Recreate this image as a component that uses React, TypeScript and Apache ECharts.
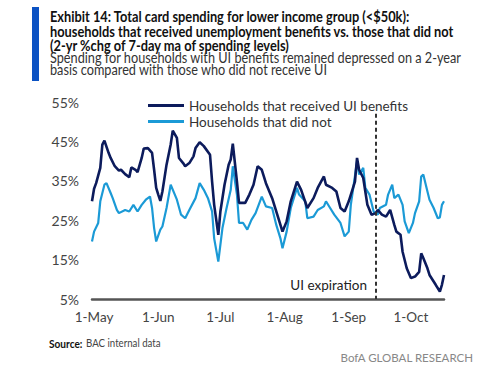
import React, { useEffect, useRef } from "react";
import * as echarts from "echarts";

// Day index: 0 = 1 May
const uiDays = [-1,0,1,3,4,5,7,8,10,12,13,15,17,18,20,21,23,24,26,28,29,30,31,32,33,35,37,38,40,41,43,44,46,48,49,51,53,56,57,58,60,61,63,65,66,67,69,70,73,75,77,79,81,83,86,89,91,93,95,98,100,103,106,108,111,112,115,117,119,121,123,126,127,128,130,131,132,134,136,137,139,141,143,145,146,148,149,151,153,155,157,158,159,161,162,165,167,168,169];
const uiValues = [29.8,33.0,34.4,38.3,44.2,45.2,42.1,40.8,38.7,37.6,37.8,36.7,35.9,38.4,37.8,37.2,40.8,43.2,43.3,42.1,37.8,33.2,31.5,29.9,32.3,39.1,44.2,47.7,45.9,40.8,39.5,38.7,39.5,41.2,43.3,44.8,43.8,41.6,34.8,28.9,21.3,27.2,34.0,39.1,40.4,44.4,34.8,29.4,29.4,31.5,34.0,38.7,37.8,34.4,30.6,25.5,22.1,24.7,29.8,34.8,32.7,28.1,30.6,33.2,36.1,34.0,33.2,32.3,28.1,27.2,29.8,34.8,40.8,37.8,35.7,32.3,28.9,26.4,26.8,27.6,26.4,25.9,27.6,23.8,22.1,21.3,17.0,12.8,10.3,10.7,11.9,16.6,15.4,12.8,11.1,8.6,6.9,8.6,11.1];

const otherDays = [-1,0,2,3,5,6,8,9,11,12,15,17,19,21,23,25,27,28,29,30,32,33,35,37,39,40,42,44,46,49,51,53,55,57,58,60,62,64,66,67,69,70,72,74,76,78,81,83,86,88,90,91,93,95,98,99,102,103,106,108,111,112,114,116,119,121,123,124,127,128,130,131,133,135,137,138,141,142,144,145,147,149,150,152,154,155,157,158,159,161,162,164,166,167,168,169];
const otherValues = [19.6,22.1,24.3,29.8,34.0,34.4,31.9,30.6,27.6,26.8,27.6,27.2,28.9,27.2,28.9,30.2,31.0,28.1,23.0,19.6,22.6,23.4,28.1,34.0,31.5,30.2,26.4,25.5,27.6,30.6,34.4,32.7,30.6,27.2,20.4,14.5,23.0,28.1,32.7,38.7,31.5,24.3,24.3,22.6,25.1,26.8,31.0,28.5,28.1,23.8,20.4,17.9,22.1,28.1,33.2,31.5,29.8,25.5,25.9,27.6,28.5,29.8,28.1,26.4,24.3,20.9,22.1,28.9,39.9,36.6,38.3,33.2,31.5,27.2,26.4,28.1,28.9,31.5,34.0,30.6,31.5,28.9,24.7,21.7,24.3,26.8,29.8,36.1,36.6,32.3,30.2,28.1,25.5,25.7,28.9,29.8];

const monthTickDays = [0, 31, 61, 92, 123, 153];
const monthTickLabels = ["1-May", "1-Jun", "1-Jul", "1-Aug", "1-Sep", "1-Oct"];
const expirationDay = 136;

const seriesNames = ["Households that received UI benefits", "Households that did not"];
const titleLines = [
  "Exhibit 14: Total card spending for lower income group (<$50k):",
  "households that received unemployment benefits vs. those that did not",
  "(2-yr %chg of 7-day ma of spending levels)",
];
const subtitleLines = [
  "Spending for households with UI benefits remained depressed on a 2-year",
  "basis compared with those who did not receive UI",
];

const FONT = "Lato, sans-serif";
const DARK = "#0c1b5c";
const LIGHT = "#1b9ad6";

export default function App() {
  const ref = useRef<HTMLDivElement>(null);
  useEffect(() => {
    document.body.style.margin = "0";
    if (!ref.current) return;
    const chart = echarts.init(ref.current, undefined, { renderer: "svg" });
    const uiData = uiDays.map((d, i) => [d, uiValues[i]]);
    const otherData = otherDays.map((d, i) => [d, otherValues[i]]);
    chart.setOption({
      animation: false,
      textStyle: { fontFamily: FONT },
      grid: { left: 92, right: 56, top: 102, bottom: 67, outerBoundsMode: "none" },
      legend: {
        orient: "vertical",
        left: 143,
        top: 93,
        itemWidth: 36,
        itemHeight: 3,
        itemGap: 1,
        icon: "rect",
        textStyle: { fontFamily: FONT, fontSize: 13.5, color: "#333", lineHeight: 15 },
        data: seriesNames,
      },
      xAxis: {
        type: "value",
        min: -1,
        max: 169,
        axisLine: { show: true, lineStyle: { color: "#555", width: 2.5 } },
        axisTick: { show: false },
        splitLine: { show: false },
        axisLabel: {
          customValues: monthTickDays,
          formatter: (v: number) => {
            const i = monthTickDays.indexOf(v);
            return i >= 0 ? monthTickLabels[i] : "";
          },
          fontFamily: FONT,
          fontSize: 13.5,
          color: "#444",
          margin: 11,
        },
      },
      yAxis: {
        type: "value",
        min: 5,
        max: 55,
        interval: 10,
        axisLine: { show: false },
        axisTick: { show: false },
        splitLine: { show: false },
        axisLabel: {
          formatter: (v: number) => v + "%",
          fontFamily: FONT,
          fontSize: 14,
          color: "#444",
          margin: 13,
        },
      },
      series: [
        {
          name: seriesNames[0],
          type: "line",
          data: uiData,
          symbol: "none",
          lineStyle: { color: DARK, width: 2.6 },
          itemStyle: { color: DARK },
          z: 3,
          markLine: {
            silent: true,
            symbol: "none",
            lineStyle: { color: "#333", type: [4, 3], width: 2 },
            label: { show: false },
            data: [[{ coord: [expirationDay, 52] }, { coord: [expirationDay, 5] }]],
          },
        },
        {
          name: seriesNames[1],
          type: "line",
          data: otherData,
          symbol: "none",
          lineStyle: { color: LIGHT, width: 2.2 },
          itemStyle: { color: LIGHT },
          z: 2,
        },
      ],
      graphic: [
        { type: "rect", shape: { x: 32, y: 7, width: 7, height: 74 }, style: { fill: "#0b52c3" } },
        ...titleLines.map((t, i) => ({
          type: "text",
          x: 50,
          y: 16.5 + i * 14.5,
          scaleX: 0.855,
          style: { text: t, fontFamily: FONT, fontWeight: "bold", fontSize: 15, fill: "#111", verticalAlign: "middle" },
        })),
        ...subtitleLines.map((t, i) => ({
          type: "text",
          x: 50,
          y: 58 + i * 12,
          scaleX: 0.877,
          style: { text: t, fontFamily: FONT, fontSize: 14.5, fill: "#333", verticalAlign: "middle" },
        })),
        {
          type: "text",
          x: 367,
          y: 285,
          style: { text: "UI expiration", fontFamily: FONT, fontSize: 13.5, fill: "#222", align: "right", verticalAlign: "middle" },
        },
        {
          type: "text",
          x: 49,
          y: 343,
          scaleX: 0.88,
          style: { text: "Source:", fontFamily: FONT, fontWeight: "bold", fontSize: 11.5, fill: "#111", verticalAlign: "middle" },
        },
        {
          type: "text",
          x: 86,
          y: 343,
          scaleX: 0.88,
          style: { text: "BAC internal data", fontFamily: FONT, fontSize: 11, fill: "#444", verticalAlign: "middle" },
        },
        {
          type: "text",
          x: 473,
          y: 357,
          style: { text: "BofA GLOBAL RESEARCH", fontFamily: FONT, fontSize: 11.5, fill: "#888", align: "right", verticalAlign: "middle" },
        },
      ],
    });
    return () => chart.dispose();
  }, []);
  return <div ref={ref} style={{ width: 500, height: 366 }} />;
}
